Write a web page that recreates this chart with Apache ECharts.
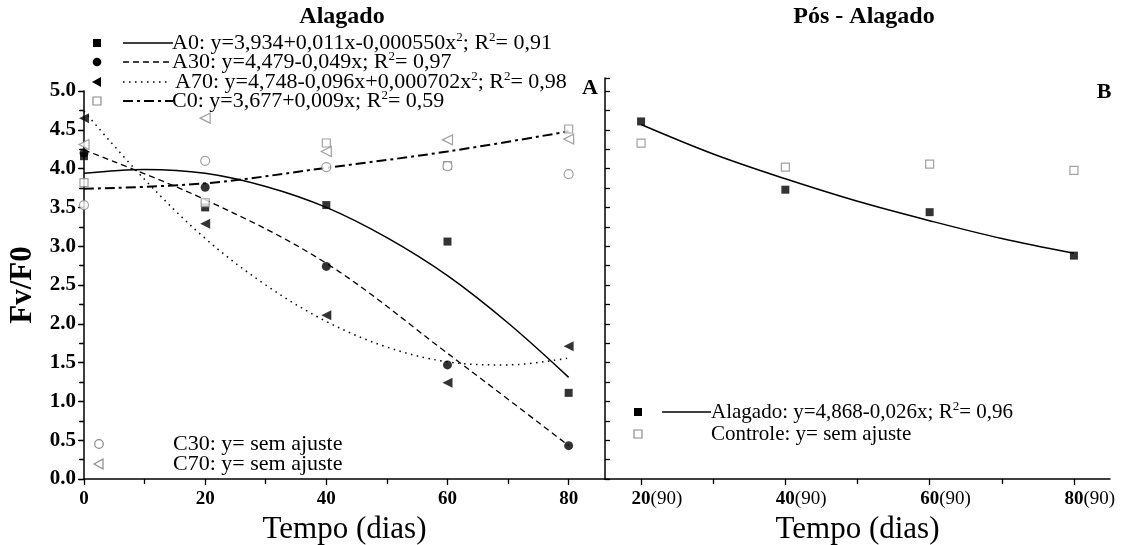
<!DOCTYPE html>
<html><head><meta charset="utf-8">
<script src="https://cdn.jsdelivr.net/npm/echarts@6/dist/echarts.min.js"></script>
<style>html,body{margin:0;padding:0;background:#fff}#c{width:1133px;height:545px}</style>
</head><body><div id="c"></div>
<script>
// ---- Data: panel A (Alagado) ----
const daysA = [0, 20, 40, 60, 80];
const A0  = [4.16, 3.50, 3.53, 3.06, 1.11];
const A30 = [4.20, 3.76, 2.74, 1.47, 0.43];
const A70 = [4.65, 3.29, 2.11, 1.24, 1.71];
const C0  = [3.82, 3.56, 4.33, 4.04, 4.51];
const C30 = [3.53, 4.10, 4.02, 4.03, 3.93];
const C70 = [4.31, 4.65, 4.22, 4.37, 4.38];
// fitted curves
const fitDaysFine = [0, 10, 20, 30, 40, 50, 60, 70, 80];
const fitA0  = [3.94, 3.99, 3.94, 3.77, 3.50, 3.11, 2.62, 2.01, 1.31];
const fitA70 = [4.74, 3.86, 3.10, 2.50, 2.03, 1.70, 1.51, 1.47, 1.56];
const fitDaysCoarse = [0, 20, 40, 60, 80];
const fitA30 = [4.24, 3.60, 2.78, 1.62, 0.43];
const fitC0  = [3.74, 3.81, 4.01, 4.22, 4.48];
// ---- Data: panel B (Pós - Alagado) ----
const daysB = [20, 40, 60, 80];
const alagado  = [4.61, 3.73, 3.44, 2.88];
const controle = [4.33, 4.02, 4.06, 3.98];
const fitDaysB = [20, 30, 40, 50, 60, 70, 80];
const fitAlagado = [4.57, 4.19, 3.87, 3.58, 3.33, 3.10, 2.91];
// ---- Tick labels ----
const xTicksA = [0, 20, 40, 60, 80];
const xMinorA = [10, 30, 50, 70];
const xTicksB = [20, 40, 60, 80];
const xMinorB = [30, 50, 70];
const xSuffixB = '(90)';

const FONT = 'Liberation Serif';
const pairs = (xs, ys) => xs.map((x, i) => [x, ys[i]]);
const chart = echarts.init(document.getElementById('c'), null, {renderer: 'canvas'});

const axisLineS = {show: true, lineStyle: {color: '#000', width: 1.5}};
const tickS = (len, inside) => ({show: true, inside: !!inside, length: len, lineStyle: {color: '#000', width: 1.3}});

function scatter(name, xs, ys, sym, opts) {
  return Object.assign({
    type: 'scatter', name, data: pairs(xs, ys), symbol: sym, symbolSize: 9,
    itemStyle: {color: '#000'}, z: 5, xAxisIndex: 0, yAxisIndex: 0
  }, opts || {});
}
const openStyle = {color: '#fff', borderColor: '#8a8a8a', borderWidth: 1.2};
function fitLine(name, xs, ys, dash, width, xi, yi) {
  return {
    type: 'line', name, data: pairs(xs, ys), showSymbol: false, symbol: 'none', smooth: 0.35,
    lineStyle: {color: '#000', width: width, type: dash}, z: 3,
    xAxisIndex: xi, yAxisIndex: yi, silent: true
  };
}

// ---- legend graphics ----
const g = [];
const txt = (x, y, text, size, bold, align) => ({
  type: 'text', x, y, z: 20,
  style: {text, fontFamily: FONT, fontSize: size, fontWeight: bold ? 'bold' : 'normal',
    fill: '#000', align: align || 'left', verticalAlign: 'middle'}
});
function makeRich(size) {
  return {
    n: {fontFamily: FONT, fontSize: size, lineHeight: size + 2, fill: '#000'},
    s: {fontFamily: FONT, fontSize: Math.round(size * 0.6), lineHeight: size + 2, verticalAlign: 'top', fill: '#000'}
  };
}
function legText(x, y, parts, size) {
  return {type: 'text', x, y, z: 20, style: {text: parts, rich: makeRich(size), verticalAlign: 'middle', align: 'left', fontFamily: FONT, fontSize: size}};
}
function mSquare(x, y, filled) {
  return {type: 'rect', z: 20, shape: {x: x - 4, y: y - 4, width: 8, height: 8},
    style: filled ? {fill: '#000'} : {fill: '#fff', stroke: '#8a8a8a', lineWidth: 1.2}};
}
function mCircle(x, y, filled) {
  return {type: 'circle', z: 20, shape: {cx: x, cy: y, r: 4.3},
    style: filled ? {fill: '#000'} : {fill: '#fff', stroke: '#8a8a8a', lineWidth: 1.2}};
}
function mTri(x, y, filled) {
  return {type: 'polygon', z: 20, shape: {points: [[x - 5, y], [x + 4, y - 5], [x + 4, y + 5]]},
    style: filled ? {fill: '#000'} : {fill: '#fff', stroke: '#8a8a8a', lineWidth: 1.2}};
}
function lSample(x1, x2, y, dash, w) {
  return {type: 'line', z: 20, shape: {x1, y1: y, x2, y2: y}, style: {stroke: '#000', lineWidth: w, lineDash: dash}};
}

g.push(txt(342, 17, 'Alagado', 24, true, 'center'));
g.push(txt(864, 17, 'Pós - Alagado', 24, true, 'center'));
g.push(txt(590, 88, 'A', 22, true, 'center'));
g.push(txt(1104, 92, 'B', 22, true, 'center'));

const LF = 22;
const rows = [43, 62, 82, 101];
g.push(mSquare(97, rows[0], true));
g.push(lSample(123, 173, rows[0], null, 1.5));
g.push(legText(172, rows[0], '{n|A0: y=3,934+0,011x-0,000550x}{s|2}{n|; R}{s|2}{n|= 0,91}', LF));
g.push(mCircle(97, rows[1], true));
g.push(lSample(123, 173, rows[1], [6, 4], 1.3));
g.push(legText(172, rows[1], '{n|A30: y=4,479-0,049x; R}{s|2}{n|= 0,97}', LF));
g.push(mTri(97, rows[2], true));
g.push(lSample(123, 170, rows[2], [1.5, 4.5], 1.5));
g.push(legText(175, rows[2], '{n|A70: y=4,748-0,096x+0,000702x}{s|2}{n|; R}{s|2}{n|= 0,98}', LF));
g.push(mSquare(97, rows[3], false));
g.push(lSample(123, 173, rows[3], [10, 4, 3, 4], 2));
g.push(legText(172, rows[3], '{n|C0: y=3,677+0,009x; R}{s|2}{n|= 0,59}', LF));

g.push(mCircle(99, 444, false));
g.push(legText(173, 444, '{n|C30: y= sem ajuste}', LF));
g.push(mTri(99, 464, false));
g.push(legText(173, 464, '{n|C70: y= sem ajuste}', LF));

g.push(mSquare(638, 412, true));
g.push(lSample(662, 711, 412, null, 1.5));
g.push(legText(711, 412, '{n|Alagado: y=4,868-0,026x; R}{s|2}{n|= 0,96}', 21));
g.push(mSquare(638, 434, false));
g.push(legText(711, 434, '{n|Controle: y= sem ajuste}', 21));

const option = {
  backgroundColor: '#fff',
  animation: false,
  grid: [
    {left: 84, top: 91, width: 521, height: 388, containLabel: false, outerBoundsMode: 'none'},
    {left: 605, top: 78, width: 505, height: 401, containLabel: false, outerBoundsMode: 'none'}
  ],
  xAxis: [
    {gridIndex: 0, type: 'value', min: 0, max: 86, position: 'bottom',
      axisLine: axisLineS, splitLine: {show: false},
      axisTick: Object.assign(tickS(6), {customValues: xTicksA}),
      axisLabel: {customValues: xTicksA, fontFamily: FONT, fontSize: 19, fontWeight: 'bold', color: '#000', margin: 11},
      name: 'Tempo (dias)', nameLocation: 'middle', nameGap: 31,
      nameTextStyle: {fontFamily: FONT, fontSize: 31, color: '#000'}},
    {gridIndex: 0, type: 'value', min: 0, max: 86, position: 'bottom',
      axisLine: {show: false}, splitLine: {show: false}, axisLabel: {show: false},
      axisTick: Object.assign(tickS(5), {customValues: xMinorA})},
    {gridIndex: 1, type: 'value', min: 15, max: 85, position: 'bottom',
      axisLine: axisLineS, splitLine: {show: false},
      axisTick: Object.assign(tickS(6), {customValues: xTicksB}),
      axisLabel: {customValues: xTicksB, margin: 11,
        formatter: v => '{h|' + xSuffixB + '}{b|' + v + '}{r|' + xSuffixB + '}',
        rich: {
          b: {fontFamily: FONT, fontSize: 19, fontWeight: 'bold', color: '#000'},
          r: {fontFamily: FONT, fontSize: 19, color: '#000'},
          h: {fontFamily: FONT, fontSize: 19, color: 'rgba(0,0,0,0)'}
        }},
      name: 'Tempo (dias)', nameLocation: 'middle', nameGap: 31,
      nameTextStyle: {fontFamily: FONT, fontSize: 31, color: '#000'}},
    {gridIndex: 1, type: 'value', min: 15, max: 85, position: 'bottom',
      axisLine: {show: false}, splitLine: {show: false}, axisLabel: {show: false},
      axisTick: Object.assign(tickS(5), {customValues: xMinorB})}
  ],
  yAxis: [
    {gridIndex: 0, type: 'value', min: 0, max: 5, interval: 0.5, position: 'left',
      axisLine: axisLineS, splitLine: {show: false},
      axisTick: tickS(6),
      minorTick: {show: true, splitNumber: 2, length: 4, lineStyle: {color: '#000', width: 1.3}},
      axisLabel: {formatter: v => v.toFixed(1), fontFamily: FONT, fontSize: 21, fontWeight: 'bold', color: '#000', margin: 8},
      name: 'Fv/F0', nameLocation: 'middle', nameGap: 46, nameRotate: 90,
      nameTextStyle: {fontFamily: FONT, fontSize: 31, fontWeight: 'bold', color: '#000'}},
    {gridIndex: 0, type: 'value', min: 0, max: 5, interval: 0.25, position: 'right',
      axisLine: {show: false}, splitLine: {show: false}, axisLabel: {show: false},
      axisTick: tickS(5, true)},
    {gridIndex: 1, type: 'value', min: 0, max: 5.17, interval: 0.25, position: 'left',
      axisLine: axisLineS, splitLine: {show: false}, axisLabel: {show: false},
      axisTick: tickS(5, true)}
  ],
  series: [
    fitLine('fA0', fitDaysFine, fitA0, 'solid', 1.5, 0, 0),
    fitLine('fA30', fitDaysCoarse, fitA30, [6, 4], 1.3, 0, 0),
    fitLine('fA70', fitDaysFine, fitA70, [1.5, 4.5], 1.5, 0, 0),
    fitLine('fC0', fitDaysCoarse, fitC0, [10, 4, 3, 4], 2, 0, 0),
    scatter('A0', daysA, A0, 'rect', {symbolSize: 8}),
    scatter('A30', daysA, A30, 'circle', {symbolSize: 9}),
    scatter('A70', daysA, A70, 'triangle', {symbolSize: 10, symbolRotate: 90}),
    scatter('C0', daysA, C0, 'rect', {symbolSize: 8, itemStyle: openStyle}),
    scatter('C30', daysA, C30, 'circle', {symbolSize: 9, itemStyle: openStyle}),
    scatter('C70', daysA, C70, 'triangle', {symbolSize: 10, symbolRotate: 90, itemStyle: openStyle}),
    fitLine('fAl', fitDaysB, fitAlagado, 'solid', 1.5, 2, 2),
    scatter('Alagado', daysB, alagado, 'rect', {symbolSize: 8, xAxisIndex: 2, yAxisIndex: 2}),
    scatter('Controle', daysB, controle, 'rect', {symbolSize: 8, itemStyle: openStyle, xAxisIndex: 2, yAxisIndex: 2})
  ],
  graphic: g
};
chart.setOption(option);
</script>
</body></html>
